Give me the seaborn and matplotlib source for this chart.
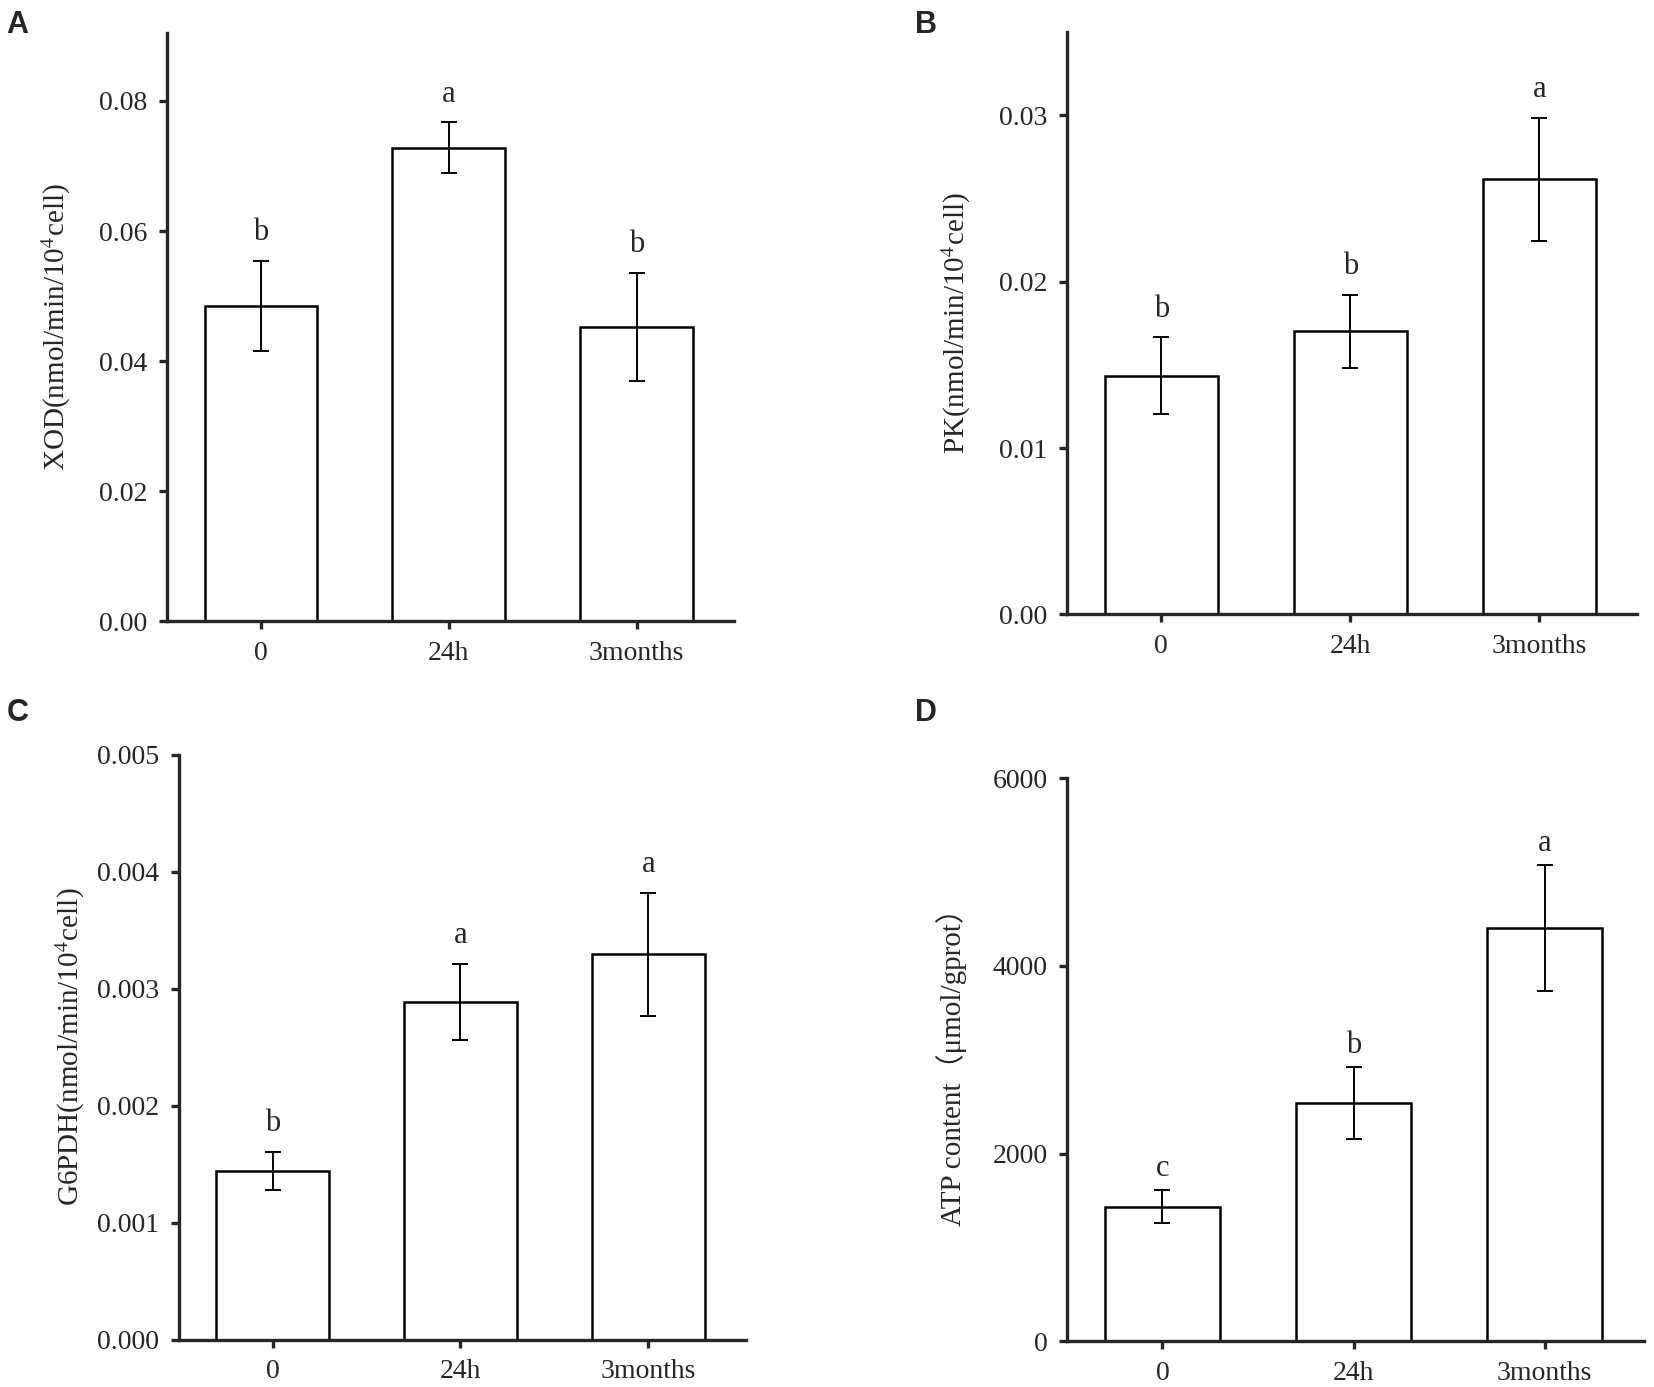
import numpy as np
import pandas as pd
import matplotlib
matplotlib.use("Agg")
import matplotlib.pyplot as plt
import seaborn as sns

# group labels shared by all four panels
groups = ["0", "24h", "3months"]

# values (mean and error half-width)
xod_mean = [0.0485, 0.0728, 0.0453]
xod_err = [0.0069, 0.0039, 0.0083]
xod_letters = ["b", "a", "b"]

pk_mean = [0.01434, 0.01702, 0.02615]
pk_err = [0.00230, 0.00220, 0.00370]
pk_letters = ["b", "b", "a"]

g6pdh_mean = [0.001445, 0.002886, 0.003293]
g6pdh_err = [0.000163, 0.000323, 0.000528]
g6pdh_letters = ["b", "a", "a"]

atp_mean = [1433, 2535, 4403]
atp_err = [175, 383, 668]
atp_letters = ["c", "b", "a"]

sns.set_theme(style="ticks")
plt.rcParams["font.family"] = ["Liberation Serif", "Noto Sans CJK SC", "DejaVu Serif"]
plt.rcParams["mathtext.fontset"] = "stix"

fig = plt.figure(figsize=(16.54, 13.87), dpi=100)

# axes boxes in figure fractions: left, bottom, width, height
boxes = {
    "A": [0.101, 0.552, 0.343, 0.424],
    "B": [0.645, 0.557, 0.345, 0.420],
    "C": [0.108, 0.034, 0.343, 0.422],
    "D": [0.645, 0.033, 0.349, 0.406],
}


# draws one bar panel with error bars and significance letters
def draw_panel(key, means, errs, letters, ylabel, ylim, yticks, fmt, label_off, pad):
    ax = fig.add_axes(boxes[key])
    df = pd.DataFrame({"group": groups, "value": means})
    sns.barplot(data=df, x="group", y="value", ax=ax, color="white",
                edgecolor="black", linewidth=1.8, width=0.6, saturation=1)
    xs = np.arange(len(groups))
    ax.errorbar(xs, means, yerr=errs, fmt="none", ecolor="black",
                elinewidth=1.4, capsize=6, capthick=1.4)
    for x, m, e, t in zip(xs, means, errs, letters):
        ax.annotate(t, (x, m + e), xytext=(0, label_off), textcoords="offset points",
                    ha="center", va="bottom", fontsize=22)
    ax.set_xlim(-0.5, 2.52)
    ax.set_ylim(*ylim)
    ax.set_yticks(yticks)
    ax.set_yticklabels([fmt.format(v) for v in yticks])
    ax.set_xlabel("")
    ax.set_ylabel(ylabel, fontsize=21, labelpad=pad)
    for s in ["top", "right"]:
        ax.spines[s].set_visible(False)
    for s in ["left", "bottom"]:
        ax.spines[s].set_linewidth(2.4)
    ax.tick_params(axis="both", direction="out", length=6, width=2.4, labelsize=20, pad=8)
    return ax


draw_panel("A", xod_mean, xod_err, xod_letters, "XOD(nmol/min/10$^4$cell)",
           (0, 0.0904), [0, 0.02, 0.04, 0.06, 0.08], "{:.2f}", 10, 19)
draw_panel("B", pk_mean, pk_err, pk_letters, "PK(nmol/min/10$^4$cell)",
           (0, 0.035), [0, 0.01, 0.02, 0.03], "{:.2f}", 10, 19)
draw_panel("C", g6pdh_mean, g6pdh_err, g6pdh_letters, "G6PDH(nmol/min/10$^4$cell)",
           (0, 0.005), [0, 0.001, 0.002, 0.003, 0.004, 0.005], "{:.3f}", 10, 7)
draw_panel("D", atp_mean, atp_err, atp_letters, "ATP content（μmol/gprot）",
           (0, 6000), [0, 2000, 4000, 6000], "{:.0f}", 5, 18)

# panel letters
for key, (x, y) in {"A": (0.004, 0.993), "B": (0.553, 0.993),
                    "C": (0.004, 0.497), "D": (0.553, 0.497)}.items():
    fig.text(x, y, key, fontsize=22, fontweight="bold", family="Liberation Sans",
             ha="left", va="top")

fig.savefig("out.png", dpi=100)
